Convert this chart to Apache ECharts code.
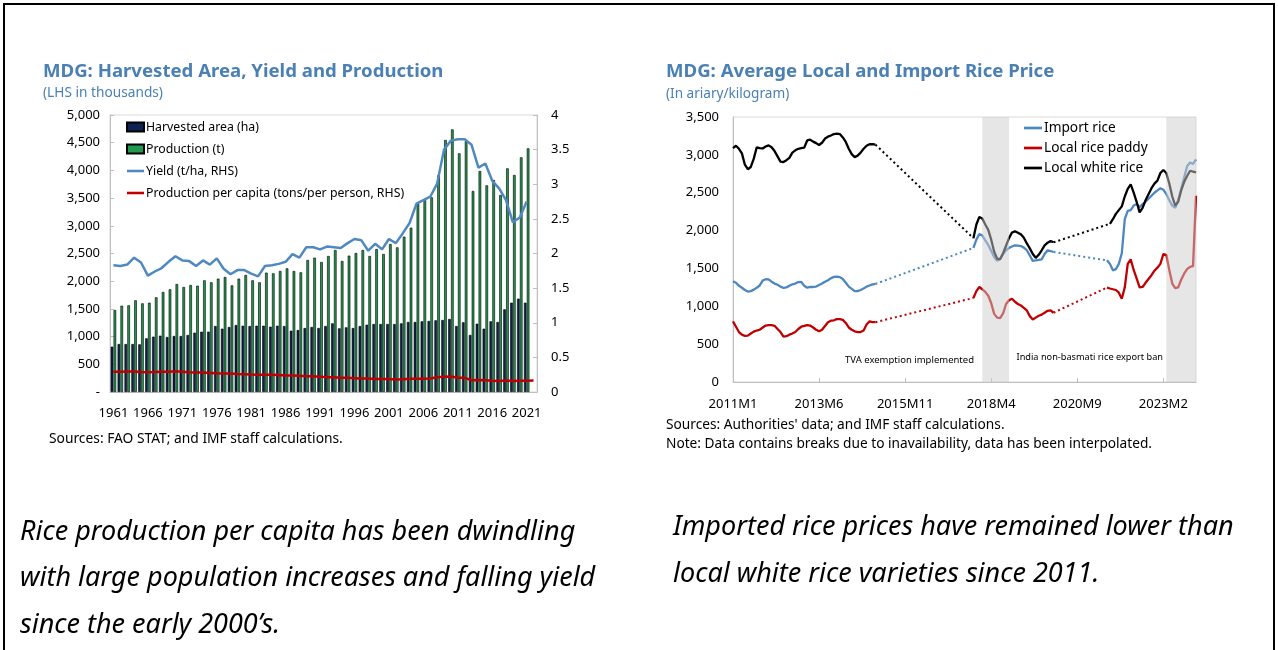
<!DOCTYPE html>
<html>
<head>
<meta charset="utf-8">
<script src="https://cdn.jsdelivr.net/npm/echarts@6/dist/echarts.min.js"></script>
<style>
  html, body { margin: 0; padding: 0; background: #fff; }
  #frame { position: absolute; left: 3px; top: 3px; width: 1272px; height: 720px; border: 2px solid #000; box-sizing: border-box; }
  #chart { position: absolute; left: 0; top: 0; width: 1278px; height: 650px; }
</style>
</head>
<body>
<div id="frame"></div>
<div id="chart"></div>
<script>
// ---------- Harvested area, production, yield (annual, 1961-2022) ----------
const YEARS = [];
for (let y = 1961; y <= 2022; y++) YEARS.push(String(y));

// thousands of hectares
const HARVESTED_AREA = [
  818, 866, 866, 866, 860, 969, 999, 1017, 993, 1011,
  1011, 1029, 1071, 1089, 1089, 1191, 1143, 1173, 1209, 1197,
  1191, 1197, 1197, 1179, 1197, 1191, 1107, 1119, 1155, 1173,
  1155, 1191, 1239, 1149, 1167, 1155, 1191, 1215, 1227, 1227,
  1227, 1227, 1239, 1264, 1264, 1276, 1282, 1294, 1300, 1318,
  1191, 1258, 1029, 1233, 1143, 1276, 1264, 1492, 1612, 1685,
  1612, null
];
// thousands of tonnes
const PRODUCTION = [
  1480, 1558, 1564, 1655, 1600, 1612, 1709, 1805, 1853, 1949,
  1895, 1931, 1919, 2016, 1980, 2046, 2076, 1925, 2046, 2112,
  2016, 1980, 2154, 2142, 2184, 2232, 2184, 2160, 2383, 2425,
  2347, 2455, 2563, 2365, 2461, 2509, 2563, 2455, 2581, 2491,
  2671, 2611, 2804, 2966, 3405, 3478, 3514, 3911, 4549, 4741,
  4308, 4531, 3628, 3989, 3730, 3827, 3556, 4037, 3917, 4236,
  4398, null
];
// t/ha (right axis)
const YIELD = [
  1.83, 1.82, 1.84, 1.94, 1.87, 1.68, 1.74, 1.79, 1.88, 1.96,
  1.90, 1.89, 1.82, 1.90, 1.84, 1.93, 1.78, 1.70, 1.76, 1.76,
  1.71, 1.67, 1.82, 1.83, 1.85, 1.88, 1.99, 1.94, 2.09, 2.09,
  2.06, 2.10, 2.09, 2.08, 2.15, 2.21, 2.19, 2.04, 2.14, 2.06,
  2.21, 2.15, 2.29, 2.44, 2.72, 2.77, 2.82, 3.01, 3.50, 3.63,
  3.65, 3.65, 3.57, 3.24, 3.30, 3.05, 2.94, 2.77, 2.45, 2.52,
  2.75, null
];
// tons per person (right axis)
const PER_CAPITA = [
  0.294, 0.293, 0.295, 0.297, 0.290, 0.286, 0.288, 0.292, 0.294, 0.298,
  0.292, 0.284, 0.282, 0.280, 0.276, 0.270, 0.266, 0.266, 0.260, 0.258,
  0.252, 0.248, 0.249, 0.250, 0.244, 0.238, 0.240, 0.236, 0.226, 0.226,
  0.222, 0.214, 0.212, 0.205, 0.204, 0.200, 0.196, 0.194, 0.186, 0.188,
  0.186, 0.180, 0.184, 0.190, 0.190, 0.192, 0.196, 0.214, 0.222, 0.224,
  0.206, 0.204, 0.170, 0.172, 0.168, 0.162, 0.160, 0.165, 0.160, 0.163,
  0.164, 0.165
];

// ---------- Rice prices (monthly, ariary/kg), observed runs ----------
const MONTHS = [];
for (let k = 0; k < 157; k++) MONTHS.push((2011 + Math.floor(k / 12)) + 'M' + (k % 12 + 1));

const IMPORT_2011 = [
  1330, 1310, 1270, 1245, 1215, 1195, 1200, 1220, 1245, 1275,
  1340, 1358, 1355, 1325, 1300, 1285, 1260, 1242, 1250, 1270,
  1290, 1300, 1320, 1322, 1270, 1245, 1255, 1255, 1260, 1280,
  1300, 1325, 1345, 1370, 1388, 1390, 1385, 1360, 1310, 1260,
  1230, 1200, 1200, 1215, 1235, 1260, 1275, 1290, 1295
];
const IMPORT_2017 = [
  1770, 1880, 1955, 1935, 1870, 1810, 1730, 1650, 1600, 1630,
  1690, 1740, 1770, 1790, 1805, 1800, 1795, 1775, 1740, 1670,
  1600, 1605, 1612, 1620, 1690, 1740, 1730, 1717
];
const IMPORT_2021 = [
  1607, 1560, 1475, 1490, 1560, 1700, 2150, 2260, 2270, 2330,
  2350, 2310, 2350, 2380, 2420, 2460, 2500, 2530, 2560, 2540,
  2480, 2400, 2330, 2300, 2400, 2550, 2700, 2850, 2900, 2880,
  2940
];

const PADDY_2011 = [
  800, 730, 660, 625, 610, 612, 640, 665, 680, 690,
  720, 745, 752, 750, 742, 700, 660, 600, 605, 625,
  640, 660, 700, 730, 740, 752, 745, 720, 690, 670,
  690, 740, 790, 810, 815, 830, 830, 820, 780, 720,
  690, 670, 660, 660, 680, 760, 800, 790, 790
];
const PADDY_2017 = [
  1110, 1200, 1255, 1225, 1190, 1140, 1040, 900, 850, 845,
  905, 1030, 1080, 1100, 1060, 1030, 1010, 980, 945, 870,
  825, 850, 875, 890, 915, 940, 945, 915
];
const PADDY_2021 = [
  1247, 1235, 1225, 1215, 1180, 1100, 1250, 1560, 1620, 1480,
  1370, 1250, 1255, 1310, 1360, 1410, 1470, 1510, 1560, 1690,
  1680, 1480, 1300, 1240, 1250, 1350, 1430, 1490, 1520, 1530,
  2460
];

const WHITE_2011 = [
  3090, 3120, 3080, 3020, 2870, 2810, 2840, 2950, 3100, 3090,
  3085, 3110, 3125, 3100, 3050, 2980, 2910, 2905, 2930, 2960,
  3030, 3060, 3080, 3090, 3095, 3190, 3200, 3175, 3155, 3130,
  3160, 3215, 3240, 3255, 3275, 3280, 3275, 3230, 3170, 3080,
  3010, 2970, 2990, 3030, 3080, 3120, 3140, 3142, 3135
];
const WHITE_2017 = [
  1900, 2080, 2180, 2160, 2080, 2010, 1880, 1720, 1630, 1620,
  1700, 1800, 1900, 1975, 1990, 1970, 1950, 1905, 1830, 1765,
  1690, 1640, 1680, 1740, 1805, 1840, 1862, 1845
];
const WHITE_2021 = [
  2090, 2150, 2220, 2270, 2320, 2450, 2550, 2610, 2500, 2380,
  2240, 2300, 2400, 2480, 2560, 2620, 2660, 2760, 2800, 2760,
  2620, 2450, 2330, 2380, 2530, 2640, 2720, 2790, 2780, 2770
];

// Shaded policy episodes
const BAND_TVA = ['2018M1', '2018M10'];
const BAND_INDIA = ['2023M3', '2024M1'];

// place observed runs on the monthly axis; months without data stay empty
function placeRuns(runs) {
  const out = new Array(MONTHS.length).fill(null);
  runs.forEach(([label, vals]) => {
    const s = MONTHS.indexOf(label);
    vals.forEach((v, j) => { out[s + j] = v; });
  });
  return out;
}
// dotted bridges from the last reading before a gap to the first one after it
function gapLinks(arr) {
  const links = [];
  let last = -1;
  arr.forEach((v, i) => {
    if (v == null) return;
    if (last >= 0 && i - last > 1) links.push([[last, arr[last]], [i, v]]);
    last = i;
  });
  return links;
}

const IMPORT = placeRuns([['2011M1', IMPORT_2011], ['2017M10', IMPORT_2017], ['2021M7', IMPORT_2021]]);
const PADDY = placeRuns([['2011M1', PADDY_2011], ['2017M10', PADDY_2017], ['2021M7', PADDY_2021]]);
const WHITE = placeRuns([['2011M1', WHITE_2011], ['2017M10', WHITE_2017], ['2021M8', WHITE_2021]]);

const FONT = "'Noto Sans', 'Open Sans', sans-serif";
const BLUE_TITLE = '#4a80b4';
const C_IMPORT = '#4d87bf', C_PADDY = '#c00000', C_WHITE = '#000000';
const LINE_ICON = 'path://M0,0 H20 V3 H0 Z';

const priceSeries = [
  { name: 'Import rice', data: IMPORT, color: C_IMPORT },
  { name: 'Local rice paddy', data: PADDY, color: C_PADDY },
  { name: 'Local white rice', data: WHITE, color: C_WHITE }
];

const series = [
  {
    name: 'Harvested area (ha)', type: 'bar', xAxisIndex: 0, yAxisIndex: 0,
    data: HARVESTED_AREA, barWidth: 2.6, barGap: '10%',
    itemStyle: { color: '#0e2252', borderColor: '#000', borderWidth: 0.6 }
  },
  {
    name: 'Production (t)', type: 'bar', xAxisIndex: 0, yAxisIndex: 0,
    data: PRODUCTION, barWidth: 2.6, barGap: '10%',
    itemStyle: { color: '#1f9a4e', borderColor: '#000', borderWidth: 0.6 }
  },
  {
    name: 'Yield (t/ha, RHS)', type: 'line', xAxisIndex: 0, yAxisIndex: 1,
    data: YIELD, symbol: 'none', z: 4,
    lineStyle: { color: '#4f89c0', width: 2.5 }, itemStyle: { color: '#4f89c0' }
  },
  {
    name: 'Production per capita (tons/per person, RHS)', type: 'line', xAxisIndex: 0, yAxisIndex: 1,
    data: PER_CAPITA, symbol: 'none', z: 4,
    lineStyle: { color: '#c00000', width: 2.5 }, itemStyle: { color: '#c00000' }
  }
];

priceSeries.forEach(p => {
  series.push({
    name: p.name, type: 'line', xAxisIndex: 1, yAxisIndex: 2, data: p.data,
    symbol: 'none', connectNulls: false, z: 3,
    lineStyle: { color: p.color, width: 2.3 }, itemStyle: { color: p.color }
  });
  gapLinks(p.data).forEach(link => {
    series.push({
      name: p.name + ' (interpolated)', type: 'line', xAxisIndex: 1, yAxisIndex: 2, data: link,
      symbol: 'none', z: 3, silent: true,
      lineStyle: { color: p.color, width: 2, type: [2, 3] }, itemStyle: { color: p.color }
    });
  });
});

// shaded episodes drawn over the lines with a translucent grey
series.push({
  name: 'bands', type: 'line', xAxisIndex: 1, yAxisIndex: 2, data: [], z: 10, silent: true,
  markArea: {
    silent: true, z: 10,
    itemStyle: { color: 'rgba(205,205,205,0.5)' },
    data: [
      [{ xAxis: BAND_TVA[0] }, { xAxis: BAND_TVA[1] }],
      [{ xAxis: BAND_INDIA[0] }, { xAxis: BAND_INDIA[1] }]
    ]
  }
});

const axisGrey = '#bfbfbf';
const txt = (text, x, y, size, opts = {}) => ({
  type: 'text', x, y, silent: true,
  style: Object.assign({
    text, fill: '#000', textVerticalAlign: 'middle',
    font: (opts.style || 'normal') + ' ' + (opts.weight || 'normal') + ' ' + size + 'px ' + FONT
  }, opts.extra || {})
});

const option = {
  animation: false,
  backgroundColor: 'transparent',
  textStyle: { fontFamily: FONT },
  grid: [
    { left: 110, top: 115, width: 427, height: 277, show: true, borderColor: '#d9d9d9', borderWidth: 1 },
    { left: 733, top: 117, width: 463, height: 265, show: true, borderColor: '#d9d9d9', borderWidth: 1 }
  ],
  xAxis: [
    {
      gridIndex: 0, type: 'category', data: YEARS, boundaryGap: true,
      axisLine: { lineStyle: { color: axisGrey } }, axisTick: { show: false },
      axisLabel: { interval: 4, color: '#000', fontSize: 13, margin: 15 }
    },
    {
      gridIndex: 1, type: 'category', data: MONTHS, boundaryGap: false,
      axisLine: { lineStyle: { color: axisGrey } },
      axisTick: { interval: 28, inside: true, length: 4, lineStyle: { color: axisGrey } },
      axisLabel: { interval: 28, color: '#000', fontSize: 13, margin: 16 }
    }
  ],
  yAxis: [
    {
      gridIndex: 0, type: 'value', min: 0, max: 5000, interval: 500,
      axisLine: { show: true, lineStyle: { color: axisGrey } },
      axisTick: { show: true, inside: true, length: 4, lineStyle: { color: axisGrey } },
      splitLine: { show: false },
      axisLabel: { color: '#000', fontSize: 13, margin: 10,
        formatter: v => v === 0 ? '-' : v.toLocaleString('en-US') }
    },
    {
      gridIndex: 0, type: 'value', position: 'right', min: 0, max: 4, interval: 0.5,
      axisLine: { show: true, lineStyle: { color: axisGrey } },
      axisTick: { show: true, inside: true, length: 4, lineStyle: { color: axisGrey } },
      splitLine: { show: false },
      axisLabel: { color: '#000', fontSize: 13, margin: 14 }
    },
    {
      gridIndex: 1, type: 'value', min: 0, max: 3500, interval: 500,
      axisLine: { show: true, lineStyle: { color: axisGrey } },
      axisTick: { show: false },
      splitLine: { show: false },
      axisLabel: { color: '#000', fontSize: 13, margin: 14,
        formatter: v => v.toLocaleString('en-US') }
    }
  ],
  legend: [
    {
      data: [
        { name: 'Harvested area (ha)', icon: 'rect' },
        { name: 'Production (t)', icon: 'rect' },
        { name: 'Yield (t/ha, RHS)', icon: LINE_ICON },
        { name: 'Production per capita (tons/per person, RHS)', icon: LINE_ICON }
      ],
      orient: 'vertical', left: 126, top: 121, padding: 0, itemGap: 10,
      itemWidth: 17, itemHeight: 9, selectedMode: false,
      textStyle: { fontSize: 12.3, color: '#000', padding: [0, 0, 0, -3] }
    },
    {
      data: [
        { name: 'Import rice', icon: LINE_ICON },
        { name: 'Local rice paddy', icon: LINE_ICON },
        { name: 'Local white rice', icon: LINE_ICON }
      ],
      orient: 'vertical', left: 1024, top: 121, padding: 0, itemGap: 6,
      itemWidth: 18, itemHeight: 9, selectedMode: false,
      textStyle: { fontSize: 13.7, color: '#000', padding: [0, 0, 0, -3] }
    }
  ],
  graphic: [
    txt('MDG: Harvested Area, Yield and Production', 43, 72, 18.6, { weight: 'bold', extra: { fill: BLUE_TITLE } }),
    txt('(LHS in thousands)', 43, 93, 13.7, { extra: { fill: BLUE_TITLE } }),
    txt('Sources: FAO STAT; and IMF staff calculations.', 49, 439, 13.8),
    txt('MDG: Average Local and Import Rice Price', 666, 72, 18.6, { weight: 'bold', extra: { fill: BLUE_TITLE } }),
    txt('(In ariary/kilogram)', 666, 94, 13.6, { extra: { fill: BLUE_TITLE } }),
    txt('TVA exemption implemented', 974, 360, 9.5, { extra: { textAlign: 'right' } }),
    txt('India non-basmati rice export ban', 1163, 357, 9.2, { extra: { textAlign: 'right' } }),
    txt("Sources: Authorities' data; and IMF staff calculations.", 666, 425, 13.7),
    txt('Note: Data contains breaks due to inavailability, data has been interpolated.', 666, 444, 13.7),
    txt('Rice production per capita has been dwindling', 20, 532, 27, { style: 'italic' }),
    txt('with large population increases and falling yield', 20, 578, 27, { style: 'italic' }),
    txt('since the early 2000\u2019s.', 20, 625, 27, { style: 'italic' }),
    txt('Imported rice prices have remained lower than', 673, 527, 27, { style: 'italic' }),
    txt('local white rice varieties since 2011.', 673, 574, 27, { style: 'italic' })
  ],
  series
};

const chart = echarts.init(document.getElementById('chart'), null, { renderer: 'canvas' });
chart.setOption(option);
</script>
</body>
</html>
